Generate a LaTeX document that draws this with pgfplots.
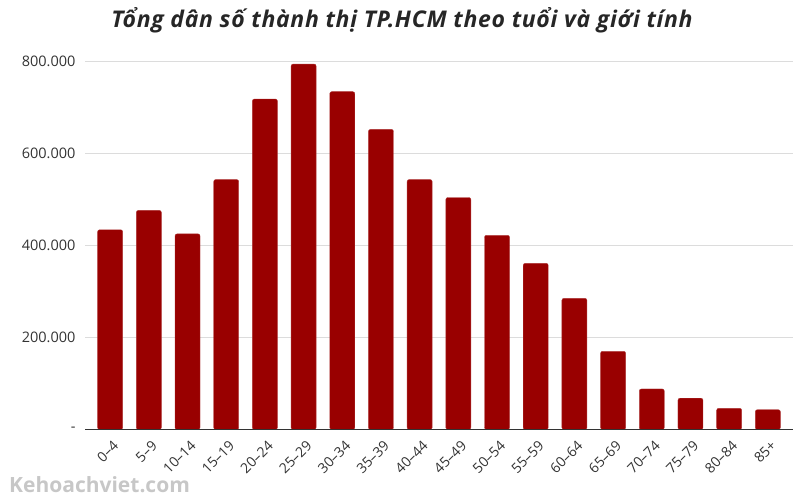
\documentclass[border=0pt]{standalone}
\usepackage{fontspec}
\setmainfont{Open Sans}
\usepackage{pgfplots}
\pgfplotsset{compat=1.18}
\definecolor{barred}{HTML}{990000}
\definecolor{gridgray}{HTML}{DCDCDC}
\definecolor{txtgray}{HTML}{333333}
\begin{document}
\begin{tikzpicture}[x=1pt,y=1pt]
\path[use as bounding box] (0,0) rectangle (800,500);
\begin{axis}[
  at={(85pt,70.5pt)}, anchor=south west,
  scale only axis, width=708pt, height=368.2pt,
  xmin=-0.65, xmax=17.65, ymin=0, ymax=800000,
  ybar, bar width=25pt,
  axis line style={draw=none},
  major tick length=0pt,
  ytick={0,200000,400000,600000,800000},
  yticklabels={-,200.000,400.000,600.000,800.000},
  scaled y ticks=false,
  ymajorgrids, grid style={gridgray, line width=1.5pt},
  xtick={0,...,17},
  xticklabels={0–4,5–9,10–14,15–19,20–24,25–29,30–34,35–39,40–44,45–49,50–54,55–59,60–64,65–69,70–74,75–79,80–84,85+},
  xticklabel style={font=\fontsize{14}{16}\selectfont, text=txtgray, inner sep=0pt, yshift=-10pt, xshift=2pt, rotate=45, anchor=north east},
  yticklabel style={font=\fontsize{14.5}{16}\selectfont, text=txtgray, xshift=-6pt},
  tick label style={/pgf/number format/assume math mode=true},
]
\addplot[fill=barred, draw=barred!80, rounded corners=2pt] coordinates {
(0,434000) (1,476000) (2,425000) (3,543000) (4,718000) (5,794000)
(6,734000) (7,652000) (8,543000) (9,504000) (10,422000) (11,361000)
(12,285000) (13,170000) (14,88000) (15,68000) (16,46000) (17,43000)
};
\draw[txtgray, line width=1pt] (rel axis cs:0,0) -- (rel axis cs:1,0);
\end{axis}
\node[font=\fontsize{23}{26}\selectfont\bfseries\itshape\addfontfeatures{LetterSpace=3}, text=black!85, anchor=base] at (402,472) {Tổng dân số thành thị TP.HCM theo tuổi và giới tính};
\node[font=\fontsize{21}{24}\selectfont\bfseries, text=black!22, anchor=west, inner sep=0pt] at (9,15) {Kehoachviet.com};
\end{tikzpicture}
\end{document}
